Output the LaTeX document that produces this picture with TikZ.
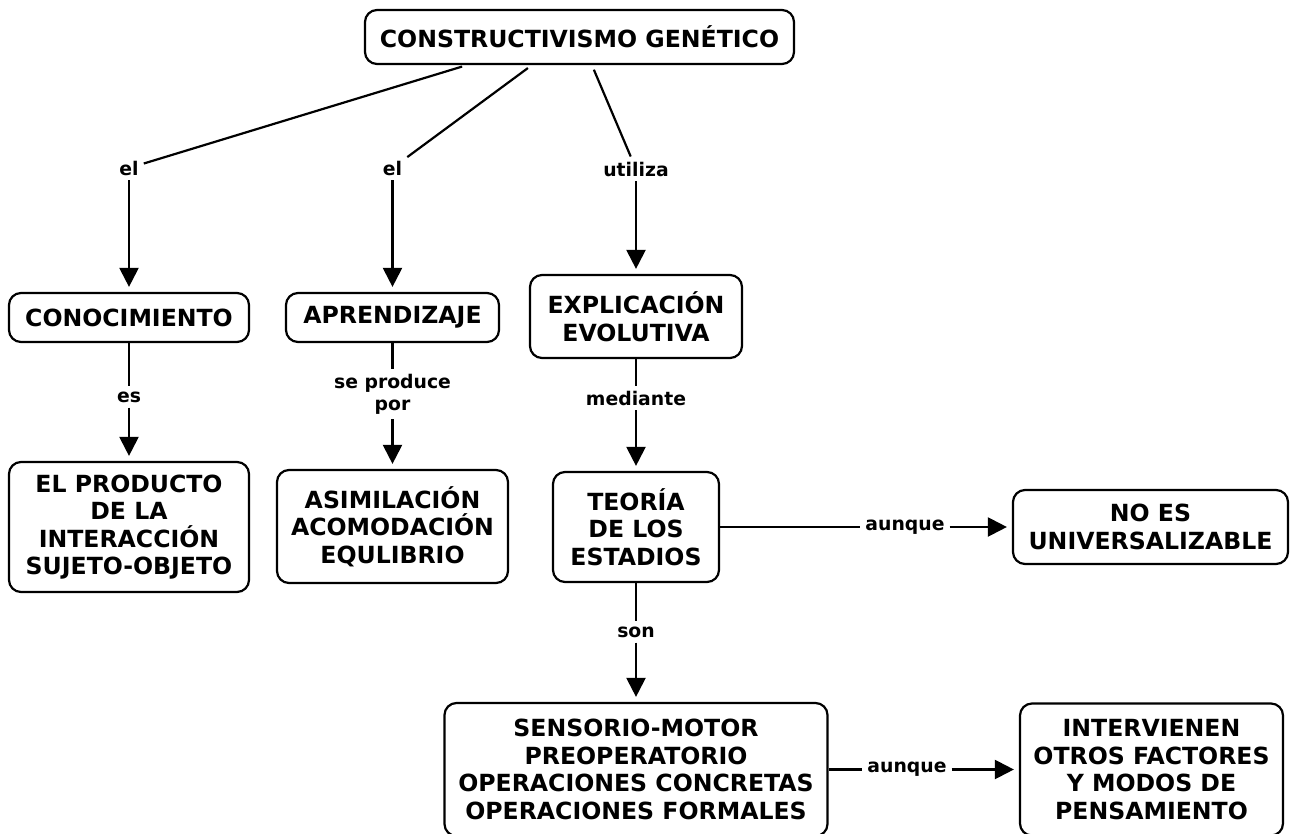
\documentclass[tikz,border=0pt]{standalone}
\usepackage{fontspec}
\setmainfont{DejaVu Sans}
\usetikzlibrary{arrows.meta,calc}
\begin{document}
\begin{tikzpicture}[x=1pt,y=-1pt,
  box/.style={draw, line width=2.2pt, rounded corners=12pt, font=\fontsize{23.6}{27.5}\selectfont\bfseries, align=center, inner sep=0pt},
  lbl/.style={font=\fontsize{18.8}{22}\selectfont\bfseries, inner sep=5pt, align=center},
  ln/.style={line width=2.2pt},
  arr/.style={line width=2.2pt, -{Triangle[width=19pt,length=19pt]}, shorten >=5pt}]
\useasboundingbox (0,0) rectangle (1292,834);
\fill[white] (0,0) rectangle (1292,834);

\node[box, minimum width=429pt, minimum height=54pt] (cg) at (579.5,37) {CONSTRUCTIVISMO GENÉTICO};
\node[box, minimum width=240pt, minimum height=49pt] (con) at (129,317.5) {CONOCIMIENTO};
\node[box, minimum width=213pt, minimum height=49pt] (apr) at (392.5,317.5) {APRENDIZAJE};
\node[box, minimum width=212pt, minimum height=83pt] (exp) at (636,316.5) {EXPLICACIÓN\\EVOLUTIVA};
\node[box, minimum width=240pt, minimum height=130pt] (prod) at (129,527) {EL PRODUCTO\\DE LA\\INTERACCIÓN\\SUJETO-OBJETO};
\node[box, minimum width=231pt, minimum height=113pt] (asi) at (392.5,526.5) {ASIMILACIÓN\\ACOMODACIÓN\\EQULIBRIO};
\node[box, minimum width=166pt, minimum height=110pt] (teo) at (636,527) {TEORÍA\\DE LOS\\ESTADIOS};
\node[box, minimum width=275pt, minimum height=74pt] (noes) at (1150.5,527) {NO ES\\UNIVERSALIZABLE};
\node[box, minimum width=383pt, minimum height=133pt] (sen) at (636,769.5) {SENSORIO-MOTOR\\PREOPERATORIO\\OPERACIONES CONCRETAS\\OPERACIONES FORMALES};
\node[box, minimum width=263pt, minimum height=132pt] (int) at (1151.5,769.5) {INTERVIENEN\\OTROS FACTORES\\Y MODOS DE\\PENSAMIENTO};

\node[lbl] (l1) at (129,168) {el};
\node[lbl] (l2) at (392.5,168) {el};
\node[lbl] (l3) at (636,169) {utiliza};
\node[lbl] (l4) at (129,397) {es};
\node[lbl] (l5) at (392.5,394) {se produce\\por};
\node[lbl] (l6) at (636,398) {mediante};
\node[lbl] (l7) at (905,527) {aunque};
\node[lbl] (l8) at (636,632) {son};
\node[lbl] (l9) at (907,769.5) {aunque};

\draw[ln, shorten <=5pt] ($(cg.south west)+(103,0)$) -- (l1);
\draw[ln, shorten <=5pt] ($(cg.south west)+(168,0)$) -- (l2);
\draw[ln, shorten <=5pt] ($(cg.south west)+(228,0)$) -- (l3);
\draw[arr] (l1) -- (con);
\draw[arr] (l2) -- (apr);
\draw[arr] (l3) -- (exp);
\draw[ln] (con) -- (l4);
\draw[arr] (l4) -- (prod);
\draw[ln] (apr) -- (l5);
\draw[arr] (l5) -- (asi);
\draw[ln] (exp) -- (l6);
\draw[arr] (l6) -- (teo);
\draw[ln] (teo) -- (l7);
\draw[arr] (l7) -- (noes);
\draw[ln] (teo) -- (l8);
\draw[arr] (l8) -- (sen);
\draw[ln] (sen) -- (l9);
\draw[arr] (l9) -- (int);
\end{tikzpicture}
\end{document}
